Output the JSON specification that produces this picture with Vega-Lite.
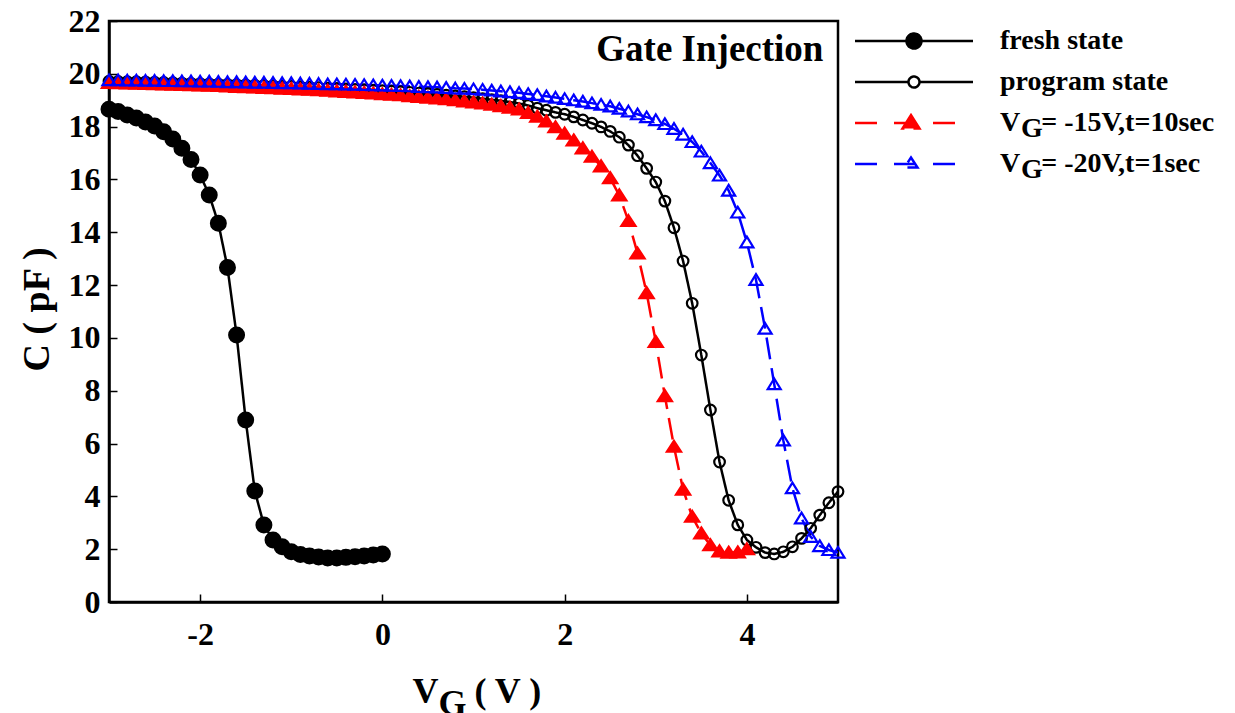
{
  "$schema": "https://vega.github.io/schema/vega-lite/v6.json",
  "width": 729,
  "height": 581,
  "autosize": "none",
  "padding": {"left": 109, "top": 21, "right": 397, "bottom": 111},
  "background": "white",
  "config": {
    "view": {"stroke": "black", "strokeWidth": 2.5},
    "font": "Liberation Serif",
    "axis": {"labelFont": "Liberation Serif", "labelFontWeight": "bold", "labelColor": "black", "titleFont": "Liberation Serif", "titleFontWeight": "bold", "titleColor": "black", "domainColor": "black", "tickColor": "black", "grid": false},
    "legend": {"labelFont": "Liberation Serif", "labelFontWeight": "bold", "labelColor": "black", "labelFontSize": 28, "labelLimit": 400, "padding": 0}
  },
  "data": {"values": [
    {"s":"fresh state","V":-3.0,"C":18.66},{"s":"fresh state","V":-2.9,"C":18.57},{"s":"fresh state","V":-2.8,"C":18.44},{"s":"fresh state","V":-2.7,"C":18.33},{"s":"fresh state","V":-2.6,"C":18.18},{"s":"fresh state","V":-2.5,"C":18.02},{"s":"fresh state","V":-2.4,"C":17.81},{"s":"fresh state","V":-2.3,"C":17.53},{"s":"fresh state","V":-2.2,"C":17.18},{"s":"fresh state","V":-2.1,"C":16.76},{"s":"fresh state","V":-2.0,"C":16.17},{"s":"fresh state","V":-1.9,"C":15.41},{"s":"fresh state","V":-1.8,"C":14.34},{"s":"fresh state","V":-1.7,"C":12.67},{"s":"fresh state","V":-1.6,"C":10.11},{"s":"fresh state","V":-1.5,"C":6.89},{"s":"fresh state","V":-1.4,"C":4.2},{"s":"fresh state","V":-1.3,"C":2.92},{"s":"fresh state","V":-1.2,"C":2.35},{"s":"fresh state","V":-1.1,"C":2.09},{"s":"fresh state","V":-1.0,"C":1.9},{"s":"fresh state","V":-0.9,"C":1.8},{"s":"fresh state","V":-0.8,"C":1.74},{"s":"fresh state","V":-0.7,"C":1.7},{"s":"fresh state","V":-0.6,"C":1.67},{"s":"fresh state","V":-0.5,"C":1.67},{"s":"fresh state","V":-0.4,"C":1.69},{"s":"fresh state","V":-0.3,"C":1.71},{"s":"fresh state","V":-0.2,"C":1.74},{"s":"fresh state","V":-0.1,"C":1.78},{"s":"fresh state","V":0.0,"C":1.82},
    {"s":"program state","V":-3.0,"C":19.72},{"s":"program state","V":-2.9,"C":19.71},{"s":"program state","V":-2.8,"C":19.7},{"s":"program state","V":-2.7,"C":19.7},{"s":"program state","V":-2.6,"C":19.69},{"s":"program state","V":-2.5,"C":19.68},{"s":"program state","V":-2.4,"C":19.67},{"s":"program state","V":-2.3,"C":19.66},{"s":"program state","V":-2.2,"C":19.65},{"s":"program state","V":-2.1,"C":19.64},{"s":"program state","V":-2.0,"C":19.63},{"s":"program state","V":-1.9,"C":19.62},{"s":"program state","V":-1.8,"C":19.61},{"s":"program state","V":-1.7,"C":19.6},{"s":"program state","V":-1.6,"C":19.59},{"s":"program state","V":-1.5,"C":19.58},{"s":"program state","V":-1.4,"C":19.57},{"s":"program state","V":-1.3,"C":19.56},{"s":"program state","V":-1.2,"C":19.55},{"s":"program state","V":-1.1,"C":19.53},{"s":"program state","V":-1.0,"C":19.52},{"s":"program state","V":-0.9,"C":19.51},{"s":"program state","V":-0.8,"C":19.49},{"s":"program state","V":-0.7,"C":19.48},{"s":"program state","V":-0.6,"C":19.46},{"s":"program state","V":-0.5,"C":19.45},{"s":"program state","V":-0.4,"C":19.43},{"s":"program state","V":-0.3,"C":19.41},{"s":"program state","V":-0.2,"C":19.4},{"s":"program state","V":-0.1,"C":19.38},{"s":"program state","V":0.0,"C":19.36},{"s":"program state","V":0.1,"C":19.34},{"s":"program state","V":0.2,"C":19.32},{"s":"program state","V":0.3,"C":19.3},{"s":"program state","V":0.4,"C":19.27},{"s":"program state","V":0.5,"C":19.25},{"s":"program state","V":0.6,"C":19.22},{"s":"program state","V":0.7,"C":19.19},{"s":"program state","V":0.8,"C":19.16},{"s":"program state","V":0.9,"C":19.13},{"s":"program state","V":1.0,"C":19.1},{"s":"program state","V":1.1,"C":19.06},{"s":"program state","V":1.2,"C":19.02},{"s":"program state","V":1.3,"C":18.98},{"s":"program state","V":1.4,"C":18.93},{"s":"program state","V":1.5,"C":18.88},{"s":"program state","V":1.6,"C":18.8},{"s":"program state","V":1.7,"C":18.7},{"s":"program state","V":1.8,"C":18.62},{"s":"program state","V":1.9,"C":18.54},{"s":"program state","V":2.0,"C":18.47},{"s":"program state","V":2.1,"C":18.37},{"s":"program state","V":2.2,"C":18.25},{"s":"program state","V":2.3,"C":18.13},{"s":"program state","V":2.4,"C":17.99},{"s":"program state","V":2.5,"C":17.82},{"s":"program state","V":2.6,"C":17.6},{"s":"program state","V":2.7,"C":17.3},{"s":"program state","V":2.8,"C":16.9},{"s":"program state","V":2.9,"C":16.42},{"s":"program state","V":3.0,"C":15.9},{"s":"program state","V":3.1,"C":15.18},{"s":"program state","V":3.2,"C":14.17},{"s":"program state","V":3.3,"C":12.91},{"s":"program state","V":3.4,"C":11.31},{"s":"program state","V":3.5,"C":9.35},{"s":"program state","V":3.6,"C":7.27},{"s":"program state","V":3.7,"C":5.3},{"s":"program state","V":3.8,"C":3.85},{"s":"program state","V":3.9,"C":2.92},{"s":"program state","V":4.0,"C":2.35},{"s":"program state","V":4.1,"C":2.07},{"s":"program state","V":4.2,"C":1.87},{"s":"program state","V":4.3,"C":1.82},{"s":"program state","V":4.4,"C":1.9},{"s":"program state","V":4.5,"C":2.09},{"s":"program state","V":4.6,"C":2.41},{"s":"program state","V":4.7,"C":2.79},{"s":"program state","V":4.8,"C":3.29},{"s":"program state","V":4.9,"C":3.76},{"s":"program state","V":5.0,"C":4.18},
    {"s":"VG= -15V,t=10sec","V":-3.0,"C":19.66},{"s":"VG= -15V,t=10sec","V":-2.9,"C":19.65},{"s":"VG= -15V,t=10sec","V":-2.8,"C":19.64},{"s":"VG= -15V,t=10sec","V":-2.7,"C":19.63},{"s":"VG= -15V,t=10sec","V":-2.6,"C":19.62},{"s":"VG= -15V,t=10sec","V":-2.5,"C":19.61},{"s":"VG= -15V,t=10sec","V":-2.4,"C":19.6},{"s":"VG= -15V,t=10sec","V":-2.3,"C":19.59},{"s":"VG= -15V,t=10sec","V":-2.2,"C":19.58},{"s":"VG= -15V,t=10sec","V":-2.1,"C":19.57},{"s":"VG= -15V,t=10sec","V":-2.0,"C":19.56},{"s":"VG= -15V,t=10sec","V":-1.9,"C":19.55},{"s":"VG= -15V,t=10sec","V":-1.8,"C":19.54},{"s":"VG= -15V,t=10sec","V":-1.7,"C":19.52},{"s":"VG= -15V,t=10sec","V":-1.6,"C":19.51},{"s":"VG= -15V,t=10sec","V":-1.5,"C":19.5},{"s":"VG= -15V,t=10sec","V":-1.4,"C":19.49},{"s":"VG= -15V,t=10sec","V":-1.3,"C":19.47},{"s":"VG= -15V,t=10sec","V":-1.2,"C":19.46},{"s":"VG= -15V,t=10sec","V":-1.1,"C":19.44},{"s":"VG= -15V,t=10sec","V":-1.0,"C":19.43},{"s":"VG= -15V,t=10sec","V":-0.9,"C":19.41},{"s":"VG= -15V,t=10sec","V":-0.8,"C":19.4},{"s":"VG= -15V,t=10sec","V":-0.7,"C":19.38},{"s":"VG= -15V,t=10sec","V":-0.6,"C":19.36},{"s":"VG= -15V,t=10sec","V":-0.5,"C":19.34},{"s":"VG= -15V,t=10sec","V":-0.4,"C":19.32},{"s":"VG= -15V,t=10sec","V":-0.3,"C":19.3},{"s":"VG= -15V,t=10sec","V":-0.2,"C":19.28},{"s":"VG= -15V,t=10sec","V":-0.1,"C":19.26},{"s":"VG= -15V,t=10sec","V":0.0,"C":19.23},{"s":"VG= -15V,t=10sec","V":0.1,"C":19.21},{"s":"VG= -15V,t=10sec","V":0.2,"C":19.19},{"s":"VG= -15V,t=10sec","V":0.3,"C":19.16},{"s":"VG= -15V,t=10sec","V":0.4,"C":19.13},{"s":"VG= -15V,t=10sec","V":0.5,"C":19.1},{"s":"VG= -15V,t=10sec","V":0.6,"C":19.07},{"s":"VG= -15V,t=10sec","V":0.7,"C":19.04},{"s":"VG= -15V,t=10sec","V":0.8,"C":19.0},{"s":"VG= -15V,t=10sec","V":0.9,"C":18.96},{"s":"VG= -15V,t=10sec","V":1.0,"C":18.92},{"s":"VG= -15V,t=10sec","V":1.1,"C":18.88},{"s":"VG= -15V,t=10sec","V":1.2,"C":18.83},{"s":"VG= -15V,t=10sec","V":1.3,"C":18.78},{"s":"VG= -15V,t=10sec","V":1.4,"C":18.72},{"s":"VG= -15V,t=10sec","V":1.5,"C":18.65},{"s":"VG= -15V,t=10sec","V":1.6,"C":18.52},{"s":"VG= -15V,t=10sec","V":1.7,"C":18.38},{"s":"VG= -15V,t=10sec","V":1.8,"C":18.2},{"s":"VG= -15V,t=10sec","V":1.9,"C":17.98},{"s":"VG= -15V,t=10sec","V":2.0,"C":17.74},{"s":"VG= -15V,t=10sec","V":2.1,"C":17.48},{"s":"VG= -15V,t=10sec","V":2.2,"C":17.18},{"s":"VG= -15V,t=10sec","V":2.3,"C":16.86},{"s":"VG= -15V,t=10sec","V":2.4,"C":16.5},{"s":"VG= -15V,t=10sec","V":2.5,"C":16.05},{"s":"VG= -15V,t=10sec","V":2.6,"C":15.4},{"s":"VG= -15V,t=10sec","V":2.7,"C":14.43},{"s":"VG= -15V,t=10sec","V":2.8,"C":13.2},{"s":"VG= -15V,t=10sec","V":2.9,"C":11.7},{"s":"VG= -15V,t=10sec","V":3.0,"C":9.85},{"s":"VG= -15V,t=10sec","V":3.1,"C":7.8},{"s":"VG= -15V,t=10sec","V":3.2,"C":5.88},{"s":"VG= -15V,t=10sec","V":3.3,"C":4.26},{"s":"VG= -15V,t=10sec","V":3.4,"C":3.23},{"s":"VG= -15V,t=10sec","V":3.5,"C":2.6},{"s":"VG= -15V,t=10sec","V":3.6,"C":2.15},{"s":"VG= -15V,t=10sec","V":3.7,"C":1.92},{"s":"VG= -15V,t=10sec","V":3.8,"C":1.87},{"s":"VG= -15V,t=10sec","V":3.9,"C":1.88},{"s":"VG= -15V,t=10sec","V":4.0,"C":2.0},
    {"s":"VG= -20V,t=1sec","V":-3.0,"C":19.76},{"s":"VG= -20V,t=1sec","V":-2.9,"C":19.76},{"s":"VG= -20V,t=1sec","V":-2.8,"C":19.75},{"s":"VG= -20V,t=1sec","V":-2.7,"C":19.75},{"s":"VG= -20V,t=1sec","V":-2.6,"C":19.74},{"s":"VG= -20V,t=1sec","V":-2.5,"C":19.74},{"s":"VG= -20V,t=1sec","V":-2.4,"C":19.73},{"s":"VG= -20V,t=1sec","V":-2.3,"C":19.73},{"s":"VG= -20V,t=1sec","V":-2.2,"C":19.72},{"s":"VG= -20V,t=1sec","V":-2.1,"C":19.72},{"s":"VG= -20V,t=1sec","V":-2.0,"C":19.71},{"s":"VG= -20V,t=1sec","V":-1.9,"C":19.71},{"s":"VG= -20V,t=1sec","V":-1.8,"C":19.7},{"s":"VG= -20V,t=1sec","V":-1.7,"C":19.69},{"s":"VG= -20V,t=1sec","V":-1.6,"C":19.69},{"s":"VG= -20V,t=1sec","V":-1.5,"C":19.68},{"s":"VG= -20V,t=1sec","V":-1.4,"C":19.67},{"s":"VG= -20V,t=1sec","V":-1.3,"C":19.67},{"s":"VG= -20V,t=1sec","V":-1.2,"C":19.66},{"s":"VG= -20V,t=1sec","V":-1.1,"C":19.65},{"s":"VG= -20V,t=1sec","V":-1.0,"C":19.65},{"s":"VG= -20V,t=1sec","V":-0.9,"C":19.64},{"s":"VG= -20V,t=1sec","V":-0.8,"C":19.63},{"s":"VG= -20V,t=1sec","V":-0.7,"C":19.62},{"s":"VG= -20V,t=1sec","V":-0.6,"C":19.61},{"s":"VG= -20V,t=1sec","V":-0.5,"C":19.61},{"s":"VG= -20V,t=1sec","V":-0.4,"C":19.6},{"s":"VG= -20V,t=1sec","V":-0.3,"C":19.59},{"s":"VG= -20V,t=1sec","V":-0.2,"C":19.58},{"s":"VG= -20V,t=1sec","V":-0.1,"C":19.57},{"s":"VG= -20V,t=1sec","V":0.0,"C":19.56},{"s":"VG= -20V,t=1sec","V":0.1,"C":19.55},{"s":"VG= -20V,t=1sec","V":0.2,"C":19.54},{"s":"VG= -20V,t=1sec","V":0.3,"C":19.53},{"s":"VG= -20V,t=1sec","V":0.4,"C":19.51},{"s":"VG= -20V,t=1sec","V":0.5,"C":19.5},{"s":"VG= -20V,t=1sec","V":0.6,"C":19.49},{"s":"VG= -20V,t=1sec","V":0.7,"C":19.47},{"s":"VG= -20V,t=1sec","V":0.8,"C":19.45},{"s":"VG= -20V,t=1sec","V":0.9,"C":19.44},{"s":"VG= -20V,t=1sec","V":1.0,"C":19.42},{"s":"VG= -20V,t=1sec","V":1.1,"C":19.4},{"s":"VG= -20V,t=1sec","V":1.2,"C":19.37},{"s":"VG= -20V,t=1sec","V":1.3,"C":19.34},{"s":"VG= -20V,t=1sec","V":1.4,"C":19.31},{"s":"VG= -20V,t=1sec","V":1.5,"C":19.28},{"s":"VG= -20V,t=1sec","V":1.6,"C":19.24},{"s":"VG= -20V,t=1sec","V":1.7,"C":19.2},{"s":"VG= -20V,t=1sec","V":1.8,"C":19.15},{"s":"VG= -20V,t=1sec","V":1.9,"C":19.1},{"s":"VG= -20V,t=1sec","V":2.0,"C":19.05},{"s":"VG= -20V,t=1sec","V":2.1,"C":19.0},{"s":"VG= -20V,t=1sec","V":2.2,"C":18.95},{"s":"VG= -20V,t=1sec","V":2.3,"C":18.89},{"s":"VG= -20V,t=1sec","V":2.4,"C":18.83},{"s":"VG= -20V,t=1sec","V":2.5,"C":18.77},{"s":"VG= -20V,t=1sec","V":2.6,"C":18.68},{"s":"VG= -20V,t=1sec","V":2.7,"C":18.58},{"s":"VG= -20V,t=1sec","V":2.8,"C":18.47},{"s":"VG= -20V,t=1sec","V":2.9,"C":18.36},{"s":"VG= -20V,t=1sec","V":3.0,"C":18.25},{"s":"VG= -20V,t=1sec","V":3.1,"C":18.1},{"s":"VG= -20V,t=1sec","V":3.2,"C":17.92},{"s":"VG= -20V,t=1sec","V":3.3,"C":17.7},{"s":"VG= -20V,t=1sec","V":3.4,"C":17.42},{"s":"VG= -20V,t=1sec","V":3.5,"C":17.06},{"s":"VG= -20V,t=1sec","V":3.6,"C":16.62},{"s":"VG= -20V,t=1sec","V":3.7,"C":16.15},{"s":"VG= -20V,t=1sec","V":3.8,"C":15.58},{"s":"VG= -20V,t=1sec","V":3.9,"C":14.75},{"s":"VG= -20V,t=1sec","V":4.0,"C":13.62},{"s":"VG= -20V,t=1sec","V":4.1,"C":12.2},{"s":"VG= -20V,t=1sec","V":4.2,"C":10.35},{"s":"VG= -20V,t=1sec","V":4.3,"C":8.25},{"s":"VG= -20V,t=1sec","V":4.4,"C":6.12},{"s":"VG= -20V,t=1sec","V":4.5,"C":4.31},{"s":"VG= -20V,t=1sec","V":4.6,"C":3.17},{"s":"VG= -20V,t=1sec","V":4.7,"C":2.47},{"s":"VG= -20V,t=1sec","V":4.8,"C":2.12},{"s":"VG= -20V,t=1sec","V":4.9,"C":1.97},{"s":"VG= -20V,t=1sec","V":5.0,"C":1.87}
  ]},
  "resolve": {"axis": {"x": "independent"}},
  "layer": [
    {
      "mark": {"type": "line", "strokeWidth": 2.5},
      "encoding": {
        "x": {"field": "V", "type": "quantitative", "scale": {"domain": [-3, 5], "nice": false, "zero": false},
          "axis": {"orient": "bottom", "values": [-2, 0, 2, 4], "labelExpr": "replace(datum.label, '\u2212', '-')", "labelFontSize": 32, "tickSize": -8, "tickWidth": 1.5, "labelPadding": 25, "domainWidth": 2.5, "title": "V\u00a0\u00a0\u00a0 ( V )", "titleFontSize": 36, "titleAlign": "left", "titleBaseline": "alphabetic", "titleX": 303, "titleY": 100}},
        "y": {"field": "C", "type": "quantitative", "scale": {"domain": [0, 22], "nice": false},
          "axis": {"orient": "left", "values": [0, 2, 4, 6, 8, 10, 12, 14, 16, 18, 20, 22], "labelFontSize": 32, "tickSize": -8, "tickWidth": 1.5, "labelPadding": 17, "domainWidth": 2.5, "title": "C ( pF )", "titleFontSize": 38, "titleBaseline": "alphabetic", "titleX": -61, "titleY": 288}},
        "stroke": {"field": "s", "type": "nominal",
          "scale": {"domain": ["fresh state", "program state", "VG= -15V,t=10sec", "VG= -20V,t=1sec"], "range": ["black", "black", "red", "blue"]},
          "legend": {
            "orient": "none", "legendX": 791, "legendY": 6, "title": null,
            "symbolSize": 100, "symbolStrokeWidth": 2.5, "symbolOffset": 0, "labelOffset": 72, "rowPadding": 13,
            "labelExpr": "replace(datum.label, 'VG', 'V\u00a0\u00a0\u00a0')",
            "encode": {"symbols": {"update": {
              "shape": {"signal": "datum.value === 'fresh state' ? 'M-11.8,0L11.8,0M-1.5,0A1.5,1.5,0,1,1,1.5,0A1.5,1.5,0,1,1,-1.5,0Z' : datum.value === 'program state' ? 'M-11.8,0L-1.1,0M1.1,0L11.8,0M-1.1,0A1.1,1.1,0,1,1,1.1,0A1.1,1.1,0,1,1,-1.1,0Z' : datum.value === 'VG= -15V,t=10sec' ? 'M-11.8,0L-6,0M-4,0L1.8,0M3.8,0L9.4,0M-0.6,-1.6L1.1,1.1L-2.3,1.1Z' : 'M-11.8,0L-6,0M-4,0L1.8,0M3.8,0L9.4,0M-0.6,-1.3L0.7,0.7L-1.9,0.7Z'"},
              "fill": {"signal": "datum.value === 'fresh state' ? 'black' : datum.value === 'VG= -15V,t=10sec' ? 'red' : 'transparent'"},
              "stroke": {"signal": "datum.value === 'VG= -15V,t=10sec' ? 'red' : datum.value === 'VG= -20V,t=1sec' ? 'blue' : 'black'"},
              "strokeDash": {"value": [1, 0]},
              "strokeWidth": {"value": 2.5},
              "opacity": {"value": 1}
            }}}
          }},
        "strokeDash": {"field": "s", "type": "nominal",
          "scale": {"domain": ["fresh state", "program state", "VG= -15V,t=10sec", "VG= -20V,t=1sec"], "range": [[1, 0], [1, 0], [22, 9], [22, 9]]},
          "legend": null}
      }
    },
    {
      "mark": {"type": "point", "filled": false, "strokeWidth": 2.2, "size": 140, "opacity": 1},
      "encoding": {
        "x": {"field": "V", "type": "quantitative", "axis": null},
        "y": {"field": "C", "type": "quantitative"},
        "stroke": {"field": "s", "type": "nominal"},
        "fill": {"field": "s", "type": "nominal",
          "scale": {"domain": ["fresh state", "program state", "VG= -15V,t=10sec", "VG= -20V,t=1sec"], "range": ["black", "transparent", "red", "transparent"]},
          "legend": null},
        "shape": {"field": "s", "type": "nominal",
          "scale": {"domain": ["fresh state", "program state", "VG= -15V,t=10sec", "VG= -20V,t=1sec"],
            "range": ["M-1.25,0A1.25,1.25,0,1,1,1.25,0A1.25,1.25,0,1,1,-1.25,0Z", "M-0.9,0A0.9,0.9,0,1,1,0.9,0A0.9,0.9,0,1,1,-0.9,0Z", "M0,-1.0L1.2,0.85L-1.2,0.85Z", "M0,-0.95L1.1,0.85L-1.1,0.85Z"]},
          "legend": {
            "orient": "right", "offset": 78, "title": "\u00a0", "titleFontSize": 1, "titlePadding": 11,
            "symbolSize": 100, "symbolStrokeWidth": 2.5, "symbolOpacity": 0, "symbolOffset": 0, "labelOffset": 72, "rowPadding": 13,
            "labelExpr": "slice(datum.label, 0, 2) === 'VG' ? 'G' : '\u00a0'"
          }}
      }
    },
    {
      "data": {"values": [{"label": "Gate Injection"}]},
      "mark": {"type": "text", "align": "right", "baseline": "alphabetic", "font": "Liberation Serif", "fontWeight": "bold", "fontSize": 37, "color": "black"},
      "encoding": {
        "text": {"field": "label"},
        "x": {"datum": 4.84, "type": "quantitative",
          "axis": {"orient": "bottom", "domain": false, "ticks": false, "labels": false, "title": "G", "titleFontSize": 36, "titleAlign": "left", "titleBaseline": "alphabetic", "titleX": 329, "titleY": 112}},
        "y": {"datum": 20.5, "type": "quantitative"}
      }
    }
  ]
}
